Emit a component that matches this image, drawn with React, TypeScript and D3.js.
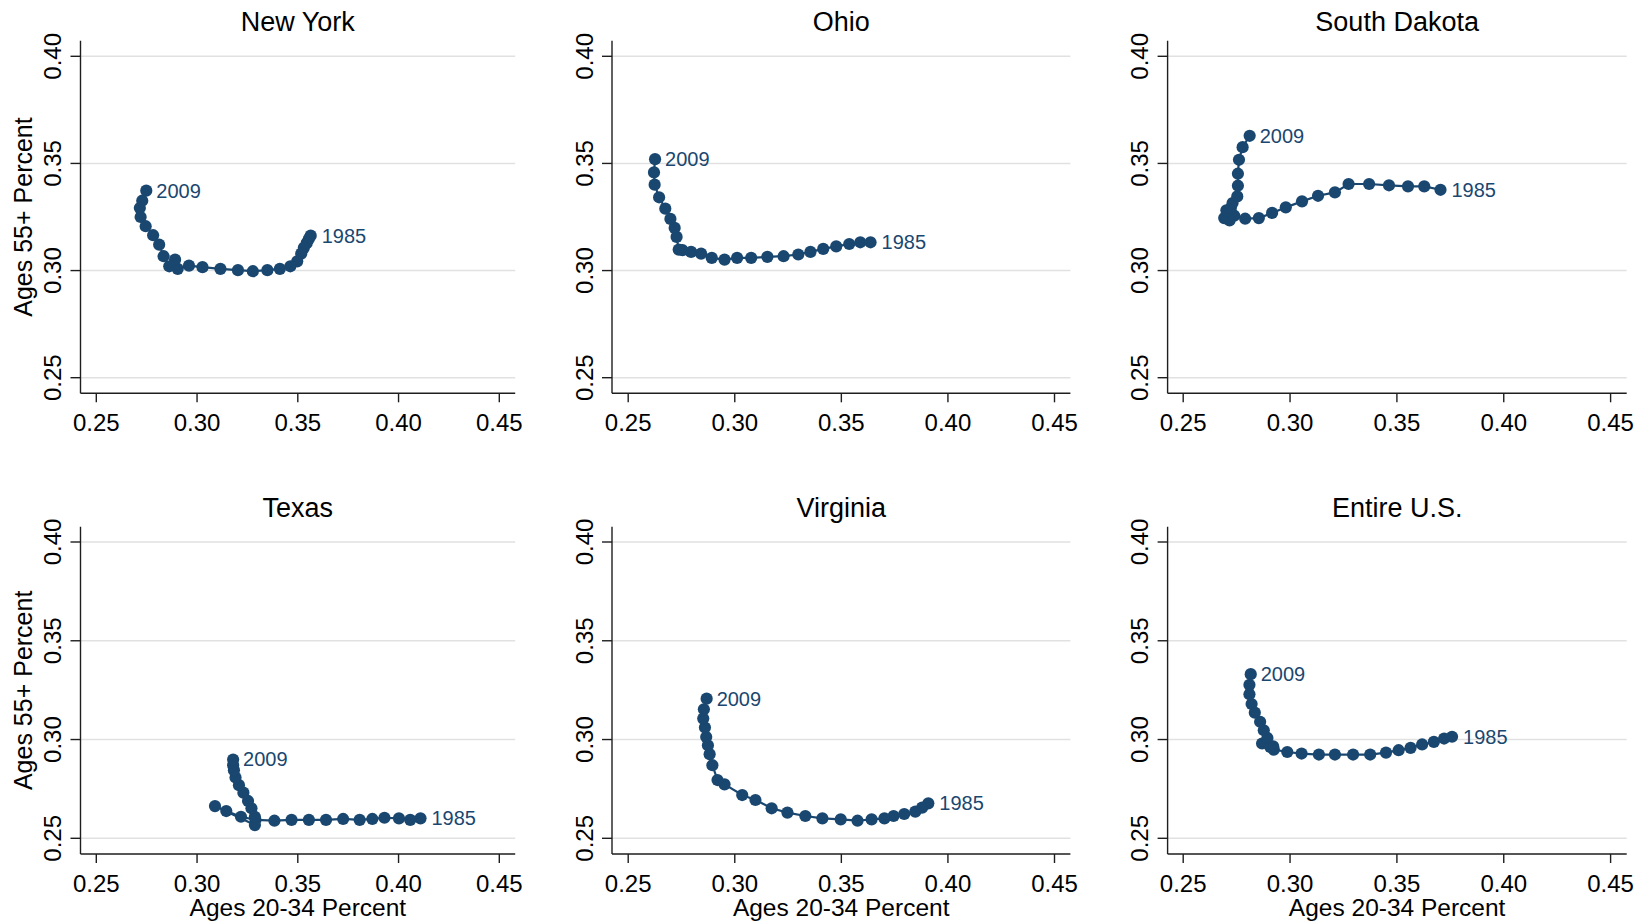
import React from "react";
import * as d3 from "d3";

// share of population aged 20-34 (x) and 55+ (y), 1985 first ... 2009 last
const newYorkX = [0.3564, 0.3555, 0.3544, 0.3530, 0.3517, 0.3497, 0.3463, 0.3411, 0.3349, 0.3277, 0.3203, 0.3116, 0.3027, 0.2960, 0.2904, 0.2891, 0.2862, 0.2834, 0.2812, 0.2782, 0.2745, 0.2720, 0.2716, 0.2728, 0.2748];
const newYorkY = [0.3163, 0.3148, 0.3128, 0.3106, 0.3079, 0.3043, 0.3020, 0.3008, 0.3002, 0.2997, 0.3002, 0.3008, 0.3016, 0.3023, 0.3008, 0.3051, 0.3020, 0.3067, 0.3121, 0.3165, 0.3207, 0.3250, 0.3292, 0.3326, 0.3373];

const ohioX = [0.3637, 0.3589, 0.3537, 0.3476, 0.3415, 0.3355, 0.3298, 0.3229, 0.3153, 0.3077, 0.3011, 0.2952, 0.2892, 0.2842, 0.2795, 0.2755, 0.2737, 0.2727, 0.2718, 0.2698, 0.2674, 0.2645, 0.2624, 0.2621, 0.2626];
const ohioY = [0.3132, 0.3132, 0.3124, 0.3113, 0.3101, 0.3087, 0.3075, 0.3067, 0.3064, 0.3059, 0.3059, 0.3051, 0.3059, 0.3079, 0.3087, 0.3095, 0.3098, 0.3157, 0.3199, 0.3241, 0.3289, 0.3342, 0.3401, 0.3458, 0.3520];

const southDakotaX = [0.3704, 0.3628, 0.3552, 0.3463, 0.3370, 0.3274, 0.3210, 0.3131, 0.3056, 0.2980, 0.2916, 0.2854, 0.2790, 0.2739, 0.2717, 0.2692, 0.2702, 0.2723, 0.2731, 0.2753, 0.2756, 0.2756, 0.2761, 0.2778, 0.2811];
const southDakotaY = [0.3377, 0.3393, 0.3393, 0.3398, 0.3404, 0.3404, 0.3365, 0.3349, 0.3323, 0.3295, 0.3269, 0.3245, 0.3242, 0.3256, 0.3234, 0.3245, 0.3281, 0.3292, 0.3315, 0.3346, 0.3396, 0.3452, 0.3517, 0.3576, 0.3629];

const texasX = [0.4109, 0.4058, 0.4002, 0.3930, 0.3870, 0.3807, 0.3725, 0.3640, 0.3555, 0.3469, 0.3384, 0.3290, 0.3218, 0.3145, 0.3089, 0.3287, 0.3287, 0.3270, 0.3253, 0.3230, 0.3208, 0.3191, 0.3183, 0.3179, 0.3179];
const texasY = [0.2601, 0.2593, 0.2601, 0.2604, 0.2598, 0.2593, 0.2598, 0.2593, 0.2593, 0.2593, 0.2589, 0.2593, 0.2609, 0.2638, 0.2663, 0.2567, 0.2609, 0.2652, 0.2689, 0.2731, 0.2769, 0.2808, 0.2845, 0.2870, 0.2899];

const virginiaX = [0.3908, 0.3879, 0.3847, 0.3795, 0.3745, 0.3702, 0.3642, 0.3576, 0.3497, 0.3411, 0.3331, 0.3247, 0.3173, 0.3097, 0.3035, 0.2952, 0.2919, 0.2895, 0.2882, 0.2874, 0.2866, 0.2860, 0.2852, 0.2855, 0.2868];
const virginiaY = [0.2677, 0.2655, 0.2635, 0.2623, 0.2613, 0.2601, 0.2596, 0.2589, 0.2596, 0.2601, 0.2613, 0.2630, 0.2652, 0.2694, 0.2719, 0.2773, 0.2795, 0.2870, 0.2926, 0.2971, 0.3013, 0.3061, 0.3106, 0.3153, 0.3207];

const entireUsX = [0.3758, 0.3721, 0.3673, 0.3618, 0.3564, 0.3508, 0.3449, 0.3375, 0.3295, 0.3210, 0.3135, 0.3054, 0.2987, 0.2924, 0.2921, 0.2907, 0.2869, 0.2894, 0.2877, 0.2860, 0.2835, 0.2820, 0.2810, 0.2810, 0.2816];
const entireUsY = [0.3014, 0.3005, 0.2988, 0.2975, 0.2958, 0.2946, 0.2934, 0.2924, 0.2924, 0.2924, 0.2924, 0.2929, 0.2937, 0.2949, 0.2966, 0.2963, 0.2980, 0.3008, 0.3047, 0.3090, 0.3136, 0.3180, 0.3229, 0.3277, 0.3331];

const stateNames = ["New York", "Ohio", "South Dakota", "Texas", "Virginia", "Entire U.S."];
const seriesX = [newYorkX, ohioX, southDakotaX, texasX, virginiaX, entireUsX];
const seriesY = [newYorkY, ohioY, southDakotaY, texasY, virginiaY, entireUsY];
const firstYear = "1985";
const lastYear = "2009";
const xTicks = [0.25, 0.3, 0.35, 0.4, 0.45];
const yTicks = [0.25, 0.3, 0.35, 0.4];

// pixel layout of the 2x3 grid
const rows = [
  { top: 40.7, bottom: 393.3, y025: 377.7, y040: 56.3, titleY: 30.7, tickY: 430.7 },
  { top: 526.7, bottom: 854, y025: 838.3, y040: 542, titleY: 516.7, tickY: 891.7 },
];
const cols = [
  { axis: 80.5, x025: 96.3, x045: 499.3, right: 515.2 },
  { axis: 612, x025: 628.2, x045: 1054.5, right: 1070.4 },
  { axis: 1167.6, x025: 1183.2, x045: 1610.6, right: 1626.7 },
];

const navy = "#1a476f";
const ink = "#1e1e1e";
const font = "'Liberation Sans', Arial, Helvetica, sans-serif";
const fmt = d3.format(".2f");

const Panel = ({ idx }) => {
  const r = Math.floor(idx / 3);
  const c = idx % 3;
  const row = rows[r];
  const col = cols[c];
  const x = d3.scaleLinear().domain([0.25, 0.45]).range([col.x025, col.x045]);
  const y = d3.scaleLinear().domain([0.25, 0.4]).range([row.y025, row.y040]);
  const pts = seriesX[idx].map((v, i) => [v, seriesY[idx][i]]);
  const line = d3.line().x(d => x(d[0])).y(d => y(d[1]));
  const cx = (col.axis + col.right) / 2;
  const n = pts.length - 1;

  return (
    <g>
      {yTicks.map(t => (
        <line key={"g" + t} x1={col.axis} x2={col.right} y1={y(t)} y2={y(t)} stroke="#e1e1e1" strokeWidth={1.6} />
      ))}
      <line x1={col.axis} x2={col.axis} y1={row.top} y2={row.bottom} stroke={ink} strokeWidth={1.4} />
      <line x1={col.axis} x2={col.right} y1={row.bottom} y2={row.bottom} stroke={ink} strokeWidth={1.4} />
      {yTicks.map(t => (
        <g key={"y" + t}>
          <line x1={col.axis - 10} x2={col.axis} y1={y(t)} y2={y(t)} stroke={ink} strokeWidth={1.4} />
          <text transform={`translate(${col.axis - 19.5},${y(t)}) rotate(-90)`} textAnchor="middle" fontSize={24} fill="#000">
            {fmt(t)}
          </text>
        </g>
      ))}
      {xTicks.map(t => (
        <g key={"x" + t}>
          <line x1={x(t)} x2={x(t)} y1={row.bottom} y2={row.bottom + 9} stroke={ink} strokeWidth={1.4} />
          <text x={x(t)} y={row.tickY} textAnchor="middle" fontSize={24} fill="#000">
            {fmt(t)}
          </text>
        </g>
      ))}
      <text x={cx} y={row.titleY} textAnchor="middle" fontSize={27} fill="#000">{stateNames[idx]}</text>
      {c === 0 && (
        <text transform={`translate(32,${(row.top + row.bottom) / 2}) rotate(-90)`} textAnchor="middle" fontSize={25} fill="#000">
          Ages 55+ Percent
        </text>
      )}
      {r === 1 && (
        <text x={cx} y={916} textAnchor="middle" fontSize={24.5} fill="#000">Ages 20-34 Percent</text>
      )}
      <path d={line(pts)} fill="none" stroke={navy} strokeWidth={2.2} />
      {pts.map((p, i) => (
        <circle key={i} cx={x(p[0])} cy={y(p[1])} r={6.1} fill={navy} />
      ))}
      <text x={x(pts[0][0]) + 11} y={y(pts[0][1])} dominantBaseline="central" fontSize={20} fill={navy}>{firstYear}</text>
      <text x={x(pts[n][0]) + 10} y={y(pts[n][1])} dominantBaseline="central" fontSize={20} fill={navy}>{lastYear}</text>
    </g>
  );
};

export default function App() {
  return (
    <svg width={1648} height={924} style={{ position: "absolute", left: 0, top: 0, background: "#fff" }} fontFamily={font}>
      <rect width={1648} height={924} fill="#fff" />
      {stateNames.map((s, i) => <Panel key={s} idx={i} />)}
    </svg>
  );
}
